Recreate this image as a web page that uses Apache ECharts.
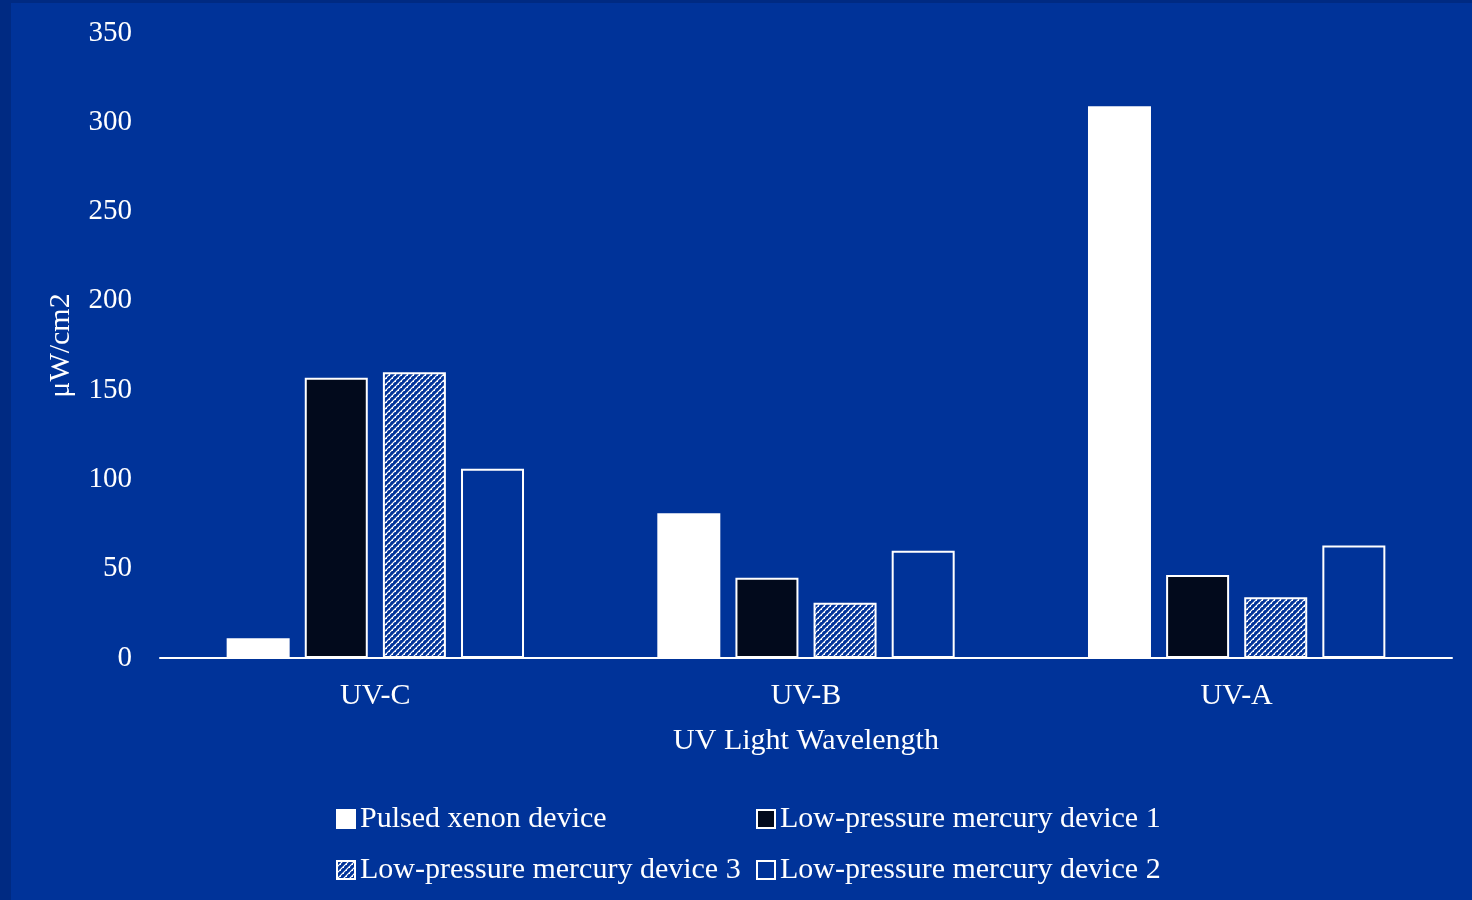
<!DOCTYPE html>
<html>
<head>
<meta charset="utf-8">
<style>
 html, body{
 	margin: 0;
 	padding: 0;
 	background: #002a82;
 }
 #chart{
 	position: absolute;
 	left: 11px;
 	top: 3px;
 	width: 1461px;
 	height: 897px;
 	background: #003399;
 }
</style>
<script src="https://cdn.jsdelivr.net/npm/echarts@6/dist/echarts.min.js"></script>
</head>
<body>
<div id="chart"></div>
<script type="text/javascript">
	// data
	var categories = ['UV-C', 'UV-B', 'UV-A'];
	var pulsedXenon = [11, 81, 309];
	var mercury1 = [157, 45, 46.5];
	var mercury3 = [160, 31, 34];
	var mercury2 = [106, 60, 63];
	var yTicks = [0, 50, 100, 150, 200, 250, 300, 350];

	var font = '"Liberation Serif", "DejaVu Serif", serif';
	var bg = '#003399';

	// hatch for device 3
	function hatch() {
		var c = document.createElement('canvas');
		c.width = 6; c.height = 6;
		var ctx = c.getContext('2d');
		ctx.fillStyle = bg;
		ctx.fillRect(0, 0, 6, 6);
		ctx.strokeStyle = '#ffffff';
		ctx.lineWidth = 1.2;
		ctx.beginPath();
		ctx.moveTo(0, 6); ctx.lineTo(6, 0);
		ctx.moveTo(-3, 3); ctx.lineTo(3, -3);
		ctx.moveTo(3, 9); ctx.lineTo(9, 3);
		ctx.stroke();
		ctx.fillStyle = '#ffffff';
		ctx.fillRect(0, 0, 1, 1);
		ctx.fillRect(3, 3, 1, 1);
		return c;
	}

	function bar(name, data, fill) {
		return {
			name: name,
			type: 'bar',
			data: data,
			barWidth: 63,
			barGap: '24%',
			itemStyle: {color: fill, borderColor: '#ffffff', borderWidth: 2}
		};
	}

	var legendText = {color: '#ffffff', fontFamily: font, fontSize: 30};

	var options = {
		animation: false,
		grid: {left: 149, right: 20, top: 30, bottom: 242},
		legend: [
			{
				orient: 'vertical', left: 320, top: 796, itemGap: 21, itemTextGap: 5,
				icon: 'rect', itemWidth: 18, itemHeight: 18, itemStyle: {borderWidth: 2},
				textStyle: legendText,
				data: ['Pulsed xenon device', 'Low-pressure mercury device 3']
			},
			{
				orient: 'vertical', left: 740, top: 796, itemGap: 21, itemTextGap: 5,
				icon: 'rect', itemWidth: 18, itemHeight: 18, itemStyle: {borderWidth: 2},
				textStyle: legendText,
				data: ['Low-pressure mercury device 1', 'Low-pressure mercury device 2']
			}
		],
		xAxis: {
			type: 'category',
			data: categories,
			name: 'UV Light Wavelength',
			nameLocation: 'middle',
			nameGap: 68,
			nameTextStyle: {color: '#ffffff', fontFamily: font, fontSize: 30},
			axisLine: {lineStyle: {color: '#ffffff', width: 2}},
			axisTick: {show: false},
			axisLabel: {color: '#ffffff', fontFamily: font, fontSize: 30, margin: 23}
		},
		yAxis: {
			type: 'value',
			min: yTicks[0],
			max: yTicks[yTicks.length - 1],
			interval: 50,
			name: 'μW/cm2',
			nameLocation: 'middle',
			nameGap: 84,
			nameTextStyle: {color: '#ffffff', fontFamily: font, fontSize: 30},
			axisLine: {show: false},
			axisTick: {show: false},
			splitLine: {show: false},
			axisLabel: {color: '#ffffff', fontFamily: font, fontSize: 29, margin: 28}
		},
		series: [
			bar('Pulsed xenon device', pulsedXenon, '#ffffff'),
			bar('Low-pressure mercury device 1', mercury1, '#020a1c'),
			bar('Low-pressure mercury device 3', mercury3, {image: hatch(), repeat: 'repeat'}),
			bar('Low-pressure mercury device 2', mercury2, bg)
		]
	};

	var myChart = echarts.init(document.getElementById('chart'));
	myChart.setOption(options);
</script>
</body>
</html>
